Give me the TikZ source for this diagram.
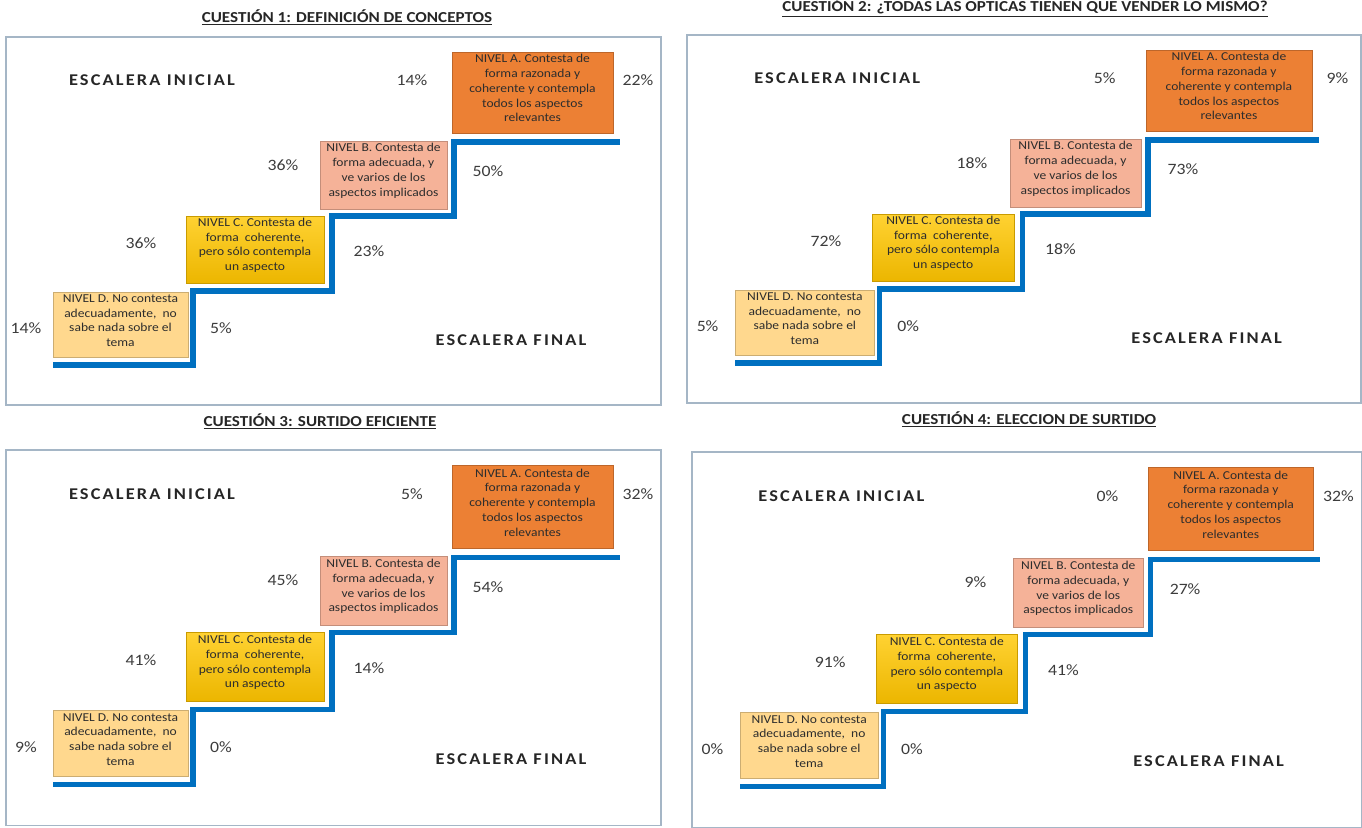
\documentclass[tikz,border=0pt]{standalone}
\usepackage{fontspec}
\setmainfont{Carlito}[FakeStretch=1.12]
\newfontfamily\espaciada[LetterSpace=13, FakeStretch=1.12]{Carlito}
\usepackage{xcolor}
\usetikzlibrary{fit, positioning}

\definecolor{azulEscalon}{RGB}{0,112,192}
\definecolor{nivelA}{RGB}{236,128,52}
\definecolor{nivelB}{RGB}{245,178,152}
\definecolor{nivelCsup}{RGB}{255,210,50}
\definecolor{nivelCinf}{RGB}{236,182,0}
\definecolor{nivelD}{RGB}{255,216,142}
\definecolor{marco}{RGB}{165,182,198}
\definecolor{textoCaja}{RGB}{45,45,45}
\definecolor{textoPct}{RGB}{60,60,60}

\tikzset{
  caja/.style={draw=#1!80!black, fill=#1, line width=0.4pt, inner sep=0pt,
    align=center, text=textoCaja, font=\fontsize{10.3}{12.6}\selectfont},
  cajaC/.style={draw=nivelCinf!85!black, top color=nivelCsup, bottom color=nivelCinf,
    line width=0.4pt, inner sep=0pt, align=center, text=textoCaja,
    font=\fontsize{10.3}{12.6}\selectfont},
  pct/.style={text=textoPct, font=\fontsize{13.5}{14}\selectfont},
  rotulo/.style={text=black!85, font=\espaciada\bfseries\fontsize{14}{16}\selectfont},
  titulo/.style={text=black!85, font=\bfseries\fontsize{13}{15}\selectfont},
  marcopanel/.style={draw=marco, line width=1pt},
  escalon/.style={draw=azulEscalon, line width=4.3pt}
}

% #1 prefijo, #2-#9 porcentajes (D, C, B, A: inicial y final)
\newcommand{\escalera}[9]{%
  \draw[marcopanel] (0,0) rectangle (655,368);
  \node[rotulo] (#1ini) at (146,43) {ESCALERA INICIAL};
  \node[rotulo] (#1fin) at (505,303) {ESCALERA FINAL};
  % escalera azul
  \draw[escalon] (47,328) -| (187,254) -| (326,179) -| (448,105) -- (614,105);
  % niveles
  \node[caja=nivelD, fit={(47,255) (182,320)}] (#1D)
    {NIVEL D. No contesta\\adecuadamente,\ \ no\\sabe nada sobre el\\tema};
  \node[cajaC, fit={(180,179) (318,246)}] (#1C)
    {NIVEL C. Contesta de\\forma\ \ coherente,\\pero sólo contempla\\un aspecto};
  \node[caja=nivelB, fit={(314,104) (441,172)}] (#1B)
    {NIVEL B. Contesta de\\forma adecuada, y\\ve varios de los\\aspectos implicados};
  \node[caja=nivelA, fit={(446,15) (607,96)}] (#1A)
    {NIVEL A. Contesta de\\forma razonada y\\coherente y contempla\\todos los aspectos\\relevantes};
  % porcentajes
  \node[pct] (#1dI) at (20,291) {#2};
  \node[pct] (#1dF) at (215,291) {#3};
  \node[pct] (#1cI) at (135,206) {#4};
  \node[pct] (#1cF) at (363,214) {#5};
  \node[pct] (#1bI) at (277,128) {#6};
  \node[pct] (#1bF) at (482,134) {#7};
  \node[pct] (#1aI) at (406,43) {#8};
  \node[pct] (#1aF) at (632,43) {#9};
}

\begin{document}
\begin{tikzpicture}[x=0.03cm, y=-0.03cm]

    % =================================================================
    % 1. LIENZO
    % =================================================================
    \fill[white] (0,0) rectangle (1362,827);
    \useasboundingbox (0,0) rectangle (1362,827);

    % =================================================================
    % 2. TITULOS DE LAS CUESTIONES
    % =================================================================
    \node[titulo] (t1) at (347,17) {\underline{CUESTIÓN 1: DEFINICIÓN DE CONCEPTOS}};
    \node[titulo] (t2) at (1025,8) {\underline{CUESTIÓN 2: ¿TODAS LAS OPTICAS TIENEN QUE VENDER LO MISMO?}};
    \node[titulo] (t3) at (320,421) {\underline{CUESTIÓN 3: SURTIDO EFICIENTE}};
    \node[titulo] (t4) at (1029,419) {\underline{CUESTIÓN 4: ELECCION DE SURTIDO}};

    % =================================================================
    % 3. LAS CUATRO ESCALERAS
    % =================================================================
    \begin{scope}[shift={(6,37)}]
      \escalera{p1}{14\%}{5\%}{36\%}{23\%}{36\%}{50\%}{14\%}{22\%}
    \end{scope}
    \begin{scope}[shift={(687,35)}, xscale=1.029]
      \escalera{p2}{5\%}{0\%}{72\%}{18\%}{18\%}{73\%}{5\%}{9\%}
    \end{scope}
    \begin{scope}[shift={(6,450)}, yscale=1.02]
      \escalera{p3}{9\%}{0\%}{41\%}{14\%}{45\%}{54\%}{5\%}{32\%}
    \end{scope}
    \begin{scope}[shift={(692,452)}, xscale=1.023, yscale=1.02]
      \escalera{p4}{0\%}{0\%}{91\%}{41\%}{9\%}{27\%}{0\%}{32\%}
    \end{scope}

\end{tikzpicture}
\end{document}
